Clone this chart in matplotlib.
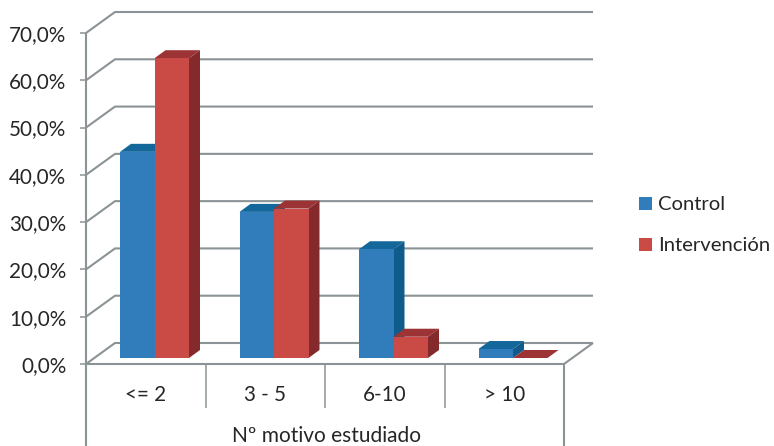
import matplotlib
matplotlib.use("Agg")
import matplotlib.pyplot as plt
from matplotlib.patches import Polygon

categories = ["<= 2", "3 - 5", "6-10", "> 10"]
control = [43.6, 30.9, 23.0, 1.9]
intervencion = [63.4, 31.6, 4.5, 0.0]
y_ticks = [0, 10, 20, 30, 40, 50, 60, 70]
axis_title = "Nº motivo estudiado"

W, H = 774, 446
plt.rcParams["font.family"] = ["Lato", "DejaVu Sans"]
fig = plt.figure(figsize=(W / 100, H / 100), dpi=100)
ax = fig.add_axes([86 / W, (H - 364) / H, 478 / W, 331 / H])
ax.set_xlim(0, 4)
ax.set_ylim(0, 70)
for s in ax.spines.values():
    s.set_visible(False)

GRID = "#8b9396"
TXT = "#262626"
LW = 1.5
ux = 478 / 4      # px per category
uy = 331 / 70     # px per percent
DX, DY = 29 / ux, 21 / uy   # wall depth in data units


def line(xs, ys, z=1):
    ax.plot(xs, ys, color=GRID, lw=LW, clip_on=False, zorder=z, solid_capstyle="butt")


# walls and floor
for v in y_ticks:
    line([0, DX, 4 + DX], [v, v + DY, v + DY])
line([0, 0], [70, -82 / uy], 2)
line([0, 4, 4 + DX], [0, 0, DY], 2)
line([4, 4], [0, -82 / uy], 2)

# ticks
ax.set_yticks(y_ticks)
ax.set_yticklabels([f"{v},0%" for v in y_ticks], fontsize=14.9, color=TXT)
ax.tick_params(axis="y", length=4.3, width=1.1, color=GRID, pad=10)
ax.set_xticks([1, 2, 3])
ax.set_xticklabels([])
ax.tick_params(axis="x", which="major", length=31.5, width=1.1, color=GRID)
ax.set_xticks([0.5, 1.5, 2.5, 3.5], minor=True)
ax.set_xticklabels(categories, minor=True, fontsize=14.9, color=TXT)
ax.tick_params(axis="x", which="minor", length=0, pad=15)

# 3-D columns
BW = 34.5 / ux
START = 25.7 / ux
D0X, D0Y = 8.3 / ux, 6 / uy   # front face offset from the floor edge
SX, SY = 11 / ux, 8 / uy      # column depth
series = [
    ("Control", control, "#317dbb", "#14679b", "#0f5c8c", 0),
    ("Intervención", intervencion, "#ca4a46", "#9c3335", "#852a2c", 1),
]
for name, vals, front, top, side, k in series:
    z = 5 + k
    xs = [i + START + D0X + k * BW for i in range(len(vals))]
    ax.bar(xs, vals, width=BW, bottom=D0Y, align="edge", color=front, label=name,
           zorder=z + 0.5, clip_on=False, linewidth=0)
    for x, v in zip(xs, vals):
        t = v + D0Y
        ax.add_patch(Polygon([(x, t), (x + BW, t), (x + BW + SX, t + SY), (x + SX, t + SY)],
                             closed=True, fc=top, ec="none", zorder=z, clip_on=False))
        ax.add_patch(Polygon([(x + BW, D0Y), (x + BW + SX, D0Y + SY), (x + BW + SX, t + SY), (x + BW, t)],
                             closed=True, fc=side, ec="none", zorder=z, clip_on=False))

ax.text(2 + 0.013, -72.5 / uy, axis_title, ha="center", va="center", fontsize=15, color=TXT, clip_on=False)

leg = ax.legend(loc="upper left", bbox_to_anchor=(633.2 / W, (H - 190.4) / H), bbox_transform=fig.transFigure,
                frameon=False, fontsize=14.6, handlelength=0.62, handleheight=0.62, handletextpad=0.3,
                labelspacing=1.17, borderpad=0.3, borderaxespad=0, labelcolor=TXT)

fig.savefig("out.png", dpi=100)
